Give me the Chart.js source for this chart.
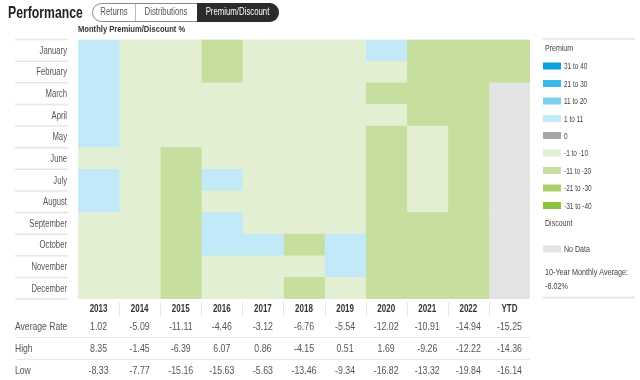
<!DOCTYPE html>
<html>
<head>
<meta charset="utf-8">
<script src="https://cdn.jsdelivr.net/npm/chart.js@4/dist/chart.umd.min.js"></script>
<style>
html,body{margin:0;padding:0;background:#fff;}
#wrap{width:640px;height:380px;position:relative;}
</style>
</head>
<body>
<div id="wrap"><canvas id="c" width="640" height="380"></canvas></div>
<script>
// ---- data ----
const years = ['2013','2014','2015','2016','2017','2018','2019','2020','2021','2022','YTD'];
const months = ['January','February','March','April','May','June','July','August','September','October','November','December'];
// legend buckets (code -> label)
const bucketCodes  = ['P4','P3','P2','P1','Z','D1','D2','D3','D4','N'];
const bucketLabels = ['31 to 40','21 to 30','11 to 20','1 to 11','0','-1 to -10','-11 to -20','-21 to -30','-31 to -40','No Data'];
// monthly bucket per year (Jan..Dec)
const m2013 = ['P1','P1','P1','P1','P1','D1','P1','P1','D1','D1','D1','D1'];
const m2014 = ['D1','D1','D1','D1','D1','D1','D1','D1','D1','D1','D1','D1'];
const m2015 = ['D1','D1','D1','D1','D1','D2','D2','D2','D2','D2','D2','D2'];
const m2016 = ['D2','D2','D1','D1','D1','D1','P1','D1','P1','P1','D1','D1'];
const m2017 = ['D1','D1','D1','D1','D1','D1','D1','D1','D1','P1','D1','D1'];
const m2018 = ['D1','D1','D1','D1','D1','D1','D1','D1','D1','D2','D1','D2'];
const m2019 = ['D1','D1','D1','D1','D1','D1','D1','D1','D1','P1','P1','D1'];
const m2020 = ['P1','D1','D2','D1','D2','D2','D2','D2','D2','D2','D2','D2'];
const m2021 = ['D2','D2','D2','D2','D1','D1','D1','D1','D2','D2','D2','D2'];
const m2022 = ['D2','D2','D2','D2','D2','D2','D2','D2','D2','D2','D2','D2'];
const mYTD  = ['D2','D2','N','N','N','N','N','N','N','N','N','N'];
const avgRate = ['1.02','-5.09','-11.11','-4.46','-3.12','-6.76','-5.54','-12.02','-10.91','-14.94','-15.25'];
const highRate = ['8.35','-1.45','-6.39','6.07','0.86','-4.15','0.51','1.69','-9.26','-12.22','-14.36'];
const lowRate = ['-8.33','-7.77','-15.16','-15.63','-5.63','-13.46','-9.34','-16.82','-13.32','-19.84','-16.14'];
const tenYearAvg = '-8.02%';

// ---- styles ----
const cellColors = {P4:'#c1e9f8',P3:'#c1e9f8',P2:'#c1e9f8',P1:'#c1e9f8',Z:'#a6a6a6',D1:'#e2efd2',D2:'#c6df9f',D3:'#a9d06f',D4:'#8bc043',N:'#e4e4e4'};
const swatchColors = {P4:'#0ba3df',P3:'#3cb9ea',P2:'#7dd0f1',P1:'#c1e9f8',Z:'#a6a6a6',D1:'#e2efd2',D2:'#c6df9f',D3:'#a9d06f',D4:'#8bc043',N:'#e4e4e4'};
const FONT = "'Liberation Sans',Arial,sans-serif";

const yearMonths = [m2013,m2014,m2015,m2016,m2017,m2018,m2019,m2020,m2021,m2022,mYTD];
const datasets = years.map((y,i)=>({
  label: y,
  data: months.map(()=>1),
  backgroundColor: yearMonths[i].map(c=>cellColors[c]),
  borderWidth: 0,
  barPercentage: 1,
  categoryPercentage: 1
}));

// condensed text: squeeze horizontally by factor f
function txt(ctx, s, x, y, font, color, align, f){
  ctx.font = font; ctx.fillStyle = color; ctx.textAlign = align || 'left'; ctx.textBaseline = 'middle';
  const w = ctx.measureText(s).width * (f || 0.75);
  ctx.fillText(s, x, y, w);
}

const decor = {
  id:'decor',
  afterDraw(chart){
    const ctx = chart.ctx, xs = chart.scales.x, ys = chart.scales.y, ca = chart.chartArea;
    ctx.save();
    // title
    txt(ctx,'Performance',8,13,"bold 17px "+FONT,'#222','left',0.72);
    // tabs
    ctx.beginPath();
    ctx.roundRect(92.5,3.5,186,18,9);
    ctx.strokeStyle='#8a8a8a'; ctx.lineWidth=1; ctx.stroke();
    ctx.beginPath();
    ctx.roundRect(197,3,82,19,[0,9.5,9.5,0]);
    ctx.fillStyle='#2b2b2b'; ctx.fill();
    ctx.beginPath(); ctx.moveTo(135.5,4); ctx.lineTo(135.5,21); ctx.strokeStyle='#bbb'; ctx.stroke();
    txt(ctx,'Returns',114,12.5,"10px "+FONT,'#555','center',0.78);
    txt(ctx,'Distributions',166,12.5,"10px "+FONT,'#555','center',0.78);
    txt(ctx,'Premium/Discount',237.5,12.5,"10px "+FONT,'#fff','center',0.78);
    // subtitle
    txt(ctx,'Monthly Premium/Discount %',78,29,"bold 9.5px "+FONT,'#333','left',0.8);
    // month labels + separators in label column
    months.forEach((m,i)=>{
      txt(ctx,m,67,ys.getPixelForValue(i)+0.5,"11px "+FONT,'#555','right',0.7);
    });
    ctx.strokeStyle='#e6e6e6'; ctx.lineWidth=1.5;
    for(let i=0;i<=months.length;i++){
      const yy = i===0 ? ca.top : (i===months.length ? ca.bottom : (ys.getPixelForValue(i-1)+ys.getPixelForValue(i))/2);
      ctx.beginPath(); ctx.moveTo(15,yy); ctx.lineTo(68,yy); ctx.stroke();
    }
    // table
    const colC = i => (xs.getPixelForValue(i)+xs.getPixelForValue(i+1))/2;
    ctx.strokeStyle='#e8e8e8'; ctx.lineWidth=1;
    for(let i=1;i<years.length;i++){
      const xx = Math.round(xs.getPixelForValue(i))+0.5;
      ctx.beginPath(); ctx.moveTo(xx,302); ctx.lineTo(xx,317); ctx.stroke();
    }
    [337.5,359.5].forEach(yy=>{ctx.beginPath(); ctx.moveTo(15,yy); ctx.lineTo(ca.right,yy); ctx.stroke();});
    years.forEach((y,i)=>{
      const cx = colC(i);
      txt(ctx,y,cx,309.5,"bold 10px "+FONT,'#333','center',0.8);
      txt(ctx,avgRate[i],cx,327,"11px "+FONT,'#555','center',0.8);
      txt(ctx,highRate[i],cx,349,"11px "+FONT,'#555','center',0.8);
      txt(ctx,lowRate[i],cx,371,"11px "+FONT,'#555','center',0.8);
    });
    txt(ctx,'Average Rate',15,327,"11px "+FONT,'#555','left',0.78);
    txt(ctx,'High',15,349,"11px "+FONT,'#555','left',0.78);
    txt(ctx,'Low',15,371,"11px "+FONT,'#555','left',0.78);
    // legend
    ctx.strokeStyle='#e3e3e3'; ctx.lineWidth=1.5;
    ctx.beginPath(); ctx.moveTo(543,39); ctx.lineTo(635,39); ctx.stroke();
    ctx.beginPath(); ctx.moveTo(543,297.5); ctx.lineTo(635,297.5); ctx.stroke();
    const LF = "9.5px "+FONT;
    txt(ctx,'Premium',545,48.5,LF,'#444','left',0.74);
    const ly = [66,83.5,101,118.5,135.5,153,170.5,188,205.5];
    for(let k=0;k<9;k++){
      ctx.fillStyle = swatchColors[bucketCodes[k]];
      ctx.fillRect(543,ly[k]-3.5,18,7);
      txt(ctx,bucketLabels[k],564,ly[k]+0.5,LF,'#444','left',0.68);
    }
    txt(ctx,'Discount',545,223,LF,'#444','left',0.74);
    ctx.fillStyle = swatchColors.N; ctx.fillRect(543,245.5,18,7);
    txt(ctx,bucketLabels[9],564,249.5,LF,'#444','left',0.74);
    txt(ctx,'10-Year Monthly Average:',545,272,LF,'#444','left',0.76);
    txt(ctx,tenYearAvg,545,286,LF,'#444','left',0.76);
    ctx.restore();
  }
};

new Chart(document.getElementById('c'),{
  type:'bar',
  data:{labels:months,datasets},
  options:{
    indexAxis:'y',
    responsive:false,
    animation:false,
    events:[],
    layout:{padding:{left:0,top:39.5,right:110,bottom:81}},
    plugins:{legend:{display:false},tooltip:{enabled:false},title:{display:false}},
    scales:{
      x:{stacked:true,min:0,max:years.length,display:false},
      y:{stacked:true,
         afterFit(s){s.width=78;},
         grid:{display:false,drawTicks:false},
         border:{display:false},
         ticks:{display:false}
      }
    }
  },
  plugins:[decor]
});
</script>
</body>
</html>
